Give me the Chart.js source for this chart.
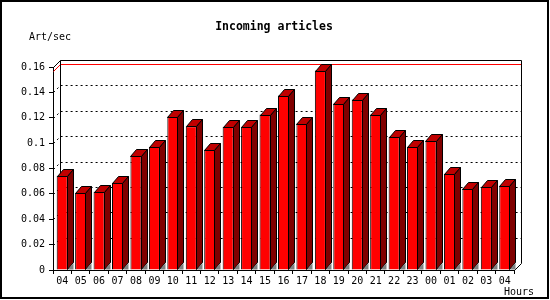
<!DOCTYPE html>
<html><head><meta charset="utf-8">
<script src="https://cdn.jsdelivr.net/npm/chart.js@4"></script>
<style>html,body{margin:0;padding:0;background:#fff}canvas{display:block}</style>
</head><body>
<canvas id="c" width="550" height="300"></canvas>
<script>
const hours = ['04','05','06','07','08','09','10','11','12','13','14','15','16','17','18','19','20','21','22','23','00','01','02','03','04'];
const artPerSec = [0.0743,0.0606,0.0616,0.0687,0.0898,0.0969,0.1209,0.1133,0.0948,0.1130,0.1130,0.1225,0.1375,0.1154,0.1572,0.1312,0.1343,0.1225,0.1051,0.0972,0.1019,0.0759,0.0640,0.0656,0.0664];
const yTicks = [0,0.02,0.04,0.06,0.08,0.1,0.12,0.14,0.16];
const titleText = 'Incoming articles';
const yUnit = 'Art/sec';
const xUnit = 'Hours';

const WD = 7;   // wall depth
const BDX = 6, BDY = 7; // bar depth
const MONO = '"DejaVu Sans Mono", "Liberation Mono", monospace';

const threeD = {
  id: 'threeD',
  beforeDraw(chart) {
    const ctx = chart.ctx;
    ctx.save();
    ctx.fillStyle = '#fff';
    ctx.fillRect(0, 0, chart.width, chart.height);
    ctx.restore();
  },
  beforeDatasetsDraw(chart) {
    const ctx = chart.ctx, ca = chart.chartArea, ys = chart.scales.y;
    const L = Math.round(ca.left) + 0.5, R = Math.round(ca.right) + 0.5;
    const T = Math.round(ca.top) + 0.5, B = Math.round(ca.bottom) + 0.5;
    ctx.save();
    ctx.lineWidth = 1;
    // dotted grid on back wall
    ctx.strokeStyle = '#000';
    ctx.setLineDash([2, 3]);
    yTicks.forEach(v => {
      if (v <= 0 || v >= ys.max) return;
      const py = Math.round(ys.getPixelForValue(v)) + 0.5;
      ctx.beginPath();
      ctx.moveTo(L, py);
      ctx.lineTo(L + WD, py - WD);
      ctx.lineTo(R + WD, py - WD);
      ctx.stroke();
    });
    ctx.setLineDash([]);
    // max line (red)
    const maxV = Math.max(...artPerSec);
    const my = Math.round(ys.getPixelForValue(maxV)) + 0.5;
    ctx.strokeStyle = '#ff0000';
    ctx.beginPath();
    ctx.moveTo(L, my);
    ctx.lineTo(L + WD, my - WD);
    ctx.lineTo(R + WD, my - WD);
    ctx.stroke();
    // wall frame
    ctx.strokeStyle = '#000';
    ctx.beginPath();
    ctx.moveTo(L, T);
    ctx.lineTo(L + WD, T - WD);
    ctx.lineTo(R + WD, T - WD);
    ctx.lineTo(R + WD, B - WD);
    ctx.lineTo(R, B);
    ctx.moveTo(L + WD, T - WD);
    ctx.lineTo(L + WD, B - WD);
    ctx.stroke();
    ctx.restore();
  },
  afterDatasetsDraw(chart) {
    const ctx = chart.ctx;
    const meta = chart.getDatasetMeta(0);
    ctx.save();
    ctx.lineWidth = 1;
    ctx.strokeStyle = '#000';
    meta.data.forEach(bar => {
      const p = bar.getProps(['x', 'y', 'base', 'width'], true);
      const l = Math.round(p.x - p.width / 2) + 0.5;
      const r = Math.round(p.x + p.width / 2) - 0.5;
      const t = Math.round(p.y) + 0.5;
      const b = Math.round(p.base) - 0.5;
      // top face
      ctx.beginPath();
      ctx.moveTo(l, t);
      ctx.lineTo(l + BDX, t - BDY);
      ctx.lineTo(r + BDX, t - BDY);
      ctx.lineTo(r, t);
      ctx.closePath();
      ctx.fillStyle = '#c00000';
      ctx.fill();
      ctx.stroke();
      // side face
      ctx.beginPath();
      ctx.moveTo(r, t);
      ctx.lineTo(r + BDX, t - BDY);
      ctx.lineTo(r + BDX, b - BDY);
      ctx.lineTo(r, b);
      ctx.closePath();
      ctx.fillStyle = '#800000';
      ctx.fill();
      ctx.stroke();
      // floor shade
      ctx.beginPath();
      ctx.moveTo(r + 0.5, b);
      ctx.lineTo(r + BDX, b - BDY + 1);
      ctx.lineTo(r + BDX, b);
      ctx.closePath();
      ctx.fillStyle = '#808080';
      ctx.fill();
    });
    ctx.restore();
  },
  afterDraw(chart) {
    const ctx = chart.ctx;
    ctx.save();
    ctx.fillStyle = '#000';
    ctx.textBaseline = 'middle';
    ctx.font = 'bold 11.5px ' + MONO;
    ctx.textAlign = 'center';
    ctx.fillText(titleText, 274, 27);
    ctx.font = '10px ' + MONO;
    ctx.textAlign = 'left';
    ctx.fillText(yUnit, 29, 37);
    ctx.fillText(xUnit, 504, 292);
    ctx.strokeStyle = '#000';
    ctx.lineWidth = 2;
    ctx.strokeRect(1, 1, 547, 297);
    ctx.restore();
  }
};

new Chart(document.getElementById('c'), {
  type: 'bar',
  data: {
    labels: hours,
    datasets: [{
      data: artPerSec,
      backgroundColor: '#ff0000',
      borderColor: '#000',
      borderWidth: 1,
      barPercentage: 0.6,
      categoryPercentage: 1
    }]
  },
  options: {
    responsive: false,
    animation: false,
    devicePixelRatio: 1,
    layout: { padding: { top: 67, right: 36, left: 0, bottom: 0 } },
    plugins: { legend: { display: false }, tooltip: { enabled: false }, title: { display: false } },
    scales: {
      x: {
        afterFit: s => { s.height = 30; },
        grid: { offset: true, drawOnChartArea: false, drawTicks: true, tickLength: 4, color: '#000' },
        border: { display: true, color: '#000', width: 1 },
        ticks: { color: '#000', font: { family: MONO, size: 10 }, padding: 1, maxRotation: 0, autoSkip: false }
      },
      y: {
        min: 0, max: 0.16,
        afterFit: s => { s.width = 53; },
        afterBuildTicks: s => { s.ticks = yTicks.map(v => ({ value: v })); },
        grid: { drawOnChartArea: false, drawTicks: true, tickLength: 4, color: '#000' },
        border: { display: true, color: '#000', width: 1 },
        ticks: { color: '#000', font: { family: MONO, size: 10 }, padding: 4,
                 callback: v => String(+Number(v).toFixed(2)) }
      }
    }
  },
  plugins: [threeD]
});
</script>
</body></html>
